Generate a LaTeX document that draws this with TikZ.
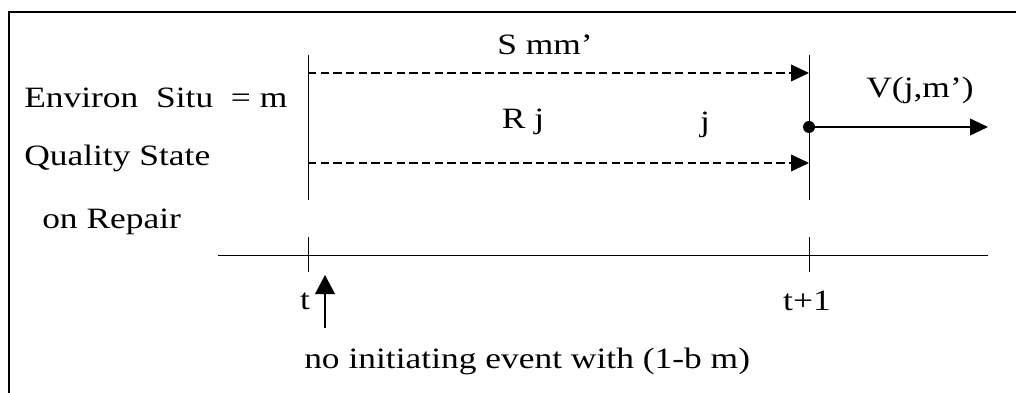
\documentclass[tikz,border=0pt]{standalone}
\usepackage{fontspec}
\setmainfont{Liberation Serif}[FakeStretch=1.2]
\usetikzlibrary{arrows.meta}
\tikzset{
  frameline/.style={line width=1.2pt, draw=black},
  timeline/.style={line width=0.7pt, draw=black},
  flowdash/.style={line width=0.9pt, draw=black, dash pattern=on 6pt off 3pt, -{Triangle[length=4.5mm, width=4.2mm]}},
  flowsolid/.style={line width=0.9pt, draw=black, -{Triangle[length=4.5mm, width=4.2mm]}},
  eventarrow/.style={line width=0.9pt, draw=black, -{Triangle[length=4.8mm, width=5mm]}},
  statedot/.style={circle, fill=black, inner sep=0pt, minimum size=3mm},
  steplabel/.style={font=\fontsize{21}{25}\selectfont, inner sep=0pt},
}

\begin{document}
\begin{tikzpicture}
\useasboundingbox (0,0) rectangle (25.4,9.825);
\draw[frameline] (0.225,0) -- (0.225,9.525) -- (25.4,9.525);
\coordinate (ttop) at (7.700,8.450);
\coordinate (tbot) at (7.700,4.825);
\coordinate (nexttop) at (20.225,8.450);
\coordinate (nextbot) at (20.225,4.825);
\draw[timeline] (ttop) -- (tbot);
\draw[timeline] (nexttop) -- (nextbot);
\coordinate (axisleft) at (5.450,3.450);
\coordinate (axisright) at (24.700,3.450);
\draw[timeline] (axisleft) -- (axisright);
\draw[timeline] (7.700,3.900) -- (7.700,3.025);
\draw[timeline] (20.225,3.900) -- (20.225,3.025);
\coordinate (sstart) at (7.700,8.000);
\coordinate (send) at (20.225,8.000);
\coordinate (rstart) at (7.700,5.750);
\coordinate (rend) at (20.225,5.750);
\draw[flowdash] (sstart) -- (send);
\draw[flowdash] (rstart) -- (rend);
\node[statedot] (state) at (20.225,6.650) {};
\coordinate (vend) at (24.700,6.650);
\draw[flowsolid] (state.center) -- (vend);
\coordinate (evfoot) at (8.125,1.625);
\coordinate (evtip) at (8.125,2.950);
\draw[eventarrow] (evfoot) -- (evtip);
\node[steplabel, anchor=west] (envlabel) at (0.600,7.375) {Environ\ \ Situ\ \ = m};
\node[steplabel, anchor=west] (qualabel) at (0.600,5.875) {Quality State};
\node[steplabel, anchor=west] (replabel) at (1.050,4.275) {on Repair};
\node[steplabel] (slabel) at (13.625,8.700) {S mm'};
\node[steplabel] (rlabel) at (13.075,6.775) {R j};
\node[steplabel] (jlabel) at (17.625,6.700) {j};
\node[steplabel] (vlabel) at (23.000,7.575) {V(j,m')};
\node[steplabel] (tlabel) at (7.625,2.300) {t};
\node[steplabel] (tnextlabel) at (20.175,2.300) {t+1};
\node[steplabel, anchor=west] (eventlabel) at (7.600,0.800) {no initiating event with (1-b m)};
\end{tikzpicture}
\end{document}
